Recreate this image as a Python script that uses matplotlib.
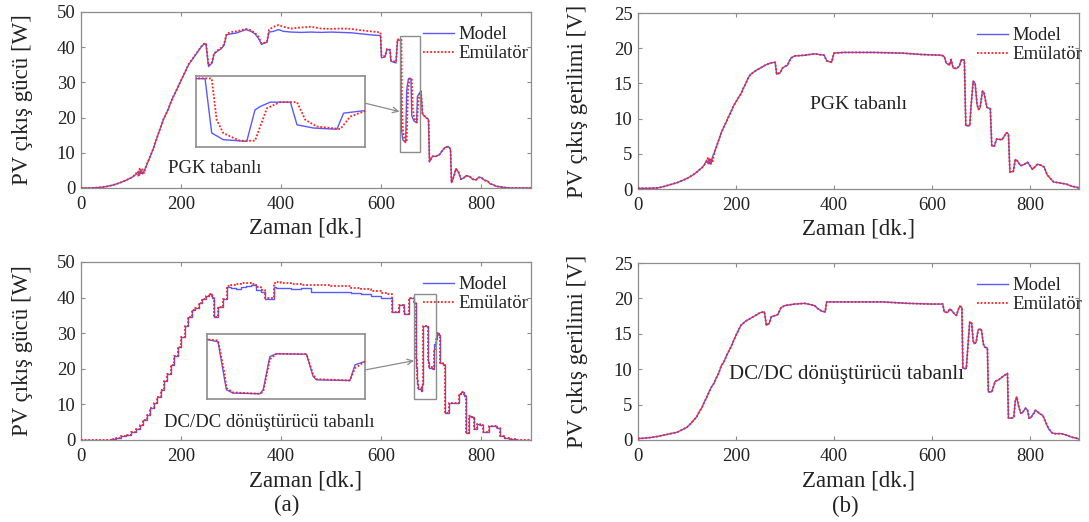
import numpy as np
import matplotlib
matplotlib.use('Agg')
import matplotlib.pyplot as plt
from matplotlib.patches import Rectangle

plt.rcParams['font.family'] = ['Liberation Serif', 'DejaVu Serif']

# ---- (a) PGK tabanli: PV power [W] ----
pgk_p_t_model = [0, 20, 40, 50, 60, 70, 80, 90, 100, 105,
                 110, 114, 117, 120, 123, 126, 130, 135, 140, 145,
                 150, 155, 160, 165, 170, 175, 180, 185, 190, 195,
                 200, 205, 210, 215, 220, 225, 230, 235, 240, 245,
                 250, 255, 262, 266, 272, 280, 286, 291, 300, 310,
                 320, 330, 340, 348, 355, 361, 372, 376, 385, 395,
                 405, 420, 440, 460, 480, 500, 520, 540, 560, 580,
                 599, 601, 608, 612, 618, 620, 630, 633, 639.2, 640.8,
                 643.6, 649.3, 651.3, 652.6, 655, 659.9, 661.5, 665.5, 670.4, 671.2,
                 672.8, 678, 680, 683, 690, 695, 697, 703, 710, 717,
                 722, 728, 735, 739, 741, 745, 750, 755, 760, 765,
                 770, 777, 783, 790, 795, 800, 807, 813, 818, 823,
                 830, 840, 850, 860, 900]
pgk_p_model = [0, 0, 0.2, 0.4, 0.7, 1.1, 1.6, 2.2, 2.9, 3.3,
               3.9, 4.6, 3.6, 5.2, 4.0, 4.8, 6.0, 7.8, 9.5, 11.3,
               13.5, 15.5, 17.5, 19.5, 21.0, 22.5, 24.5, 26.0, 27.5, 29.0,
               30.5, 32.0, 33.5, 35.0, 36.0, 37.0, 38.0, 39.0, 40.0, 40.8,
               41.0, 34.5, 35.5, 38.0, 38.8, 39.5, 40.5, 43.5, 43.8, 44.0,
               44.5, 45.0, 44.5, 43.8, 42.5, 40.8, 41.5, 44.3, 44.5, 45.0,
               44.5, 44.3, 44.2, 44.3, 44.2, 44.3, 44.2, 44.1, 43.8, 43.5,
               43.3, 37.0, 37.2, 39.4, 39.2, 36.0, 35.5, 42.0, 42.0, 16.8,
               13.7, 12.9, 27.5, 29.1, 31.1, 31.1, 20.6, 19.1, 18.6, 18.6,
               26.0, 27.2, 27.5, 21.0, 20.0, 19.5, 7.5, 9.0, 9.0, 9.5,
               10.5, 11.5, 11.8, 11.0, 1.5, 3.0, 5.5, 4.5, 2.5, 2.8,
               3.5, 3.3, 2.5, 2.3, 3.0, 3.0, 2.2, 2.0, 1.2, 1.0,
               0.5, 0.3, 0.1, 0, 0]
pgk_p_t_emu = [0, 20, 40, 50, 60, 70, 80, 90, 100, 105,
               110, 114, 117, 120, 123, 126, 130, 135, 140, 145,
               150, 155, 160, 165, 170, 175, 180, 185, 190, 195,
               200, 205, 210, 215, 220, 225, 230, 235, 240, 245,
               250, 255, 262, 266, 272, 280, 286, 291, 300, 310,
               320, 330, 340, 348, 355, 361, 372, 376, 385, 395,
               405, 420, 440, 460, 480, 500, 520, 540, 560, 580,
               599, 601, 608, 612, 618, 620, 630, 633, 640.8, 642,
               643.6, 646.1, 647.7, 651.3, 654.2, 657.4, 661.5, 663.5, 666.3, 672,
               674.4, 678, 680, 683, 690, 695, 697, 703, 710, 717,
               722, 728, 735, 739, 741, 745, 750, 755, 760, 765,
               770, 777, 783, 790, 795, 800, 807, 813, 818, 823,
               830, 840, 850, 860, 900]
pgk_p_emu = [0, 0, 0.2, 0.4, 0.7, 1.1, 1.6, 2.2, 2.9, 3.4,
             4.2, 3.5, 5.5, 3.8, 5.3, 4.2, 6.2, 7.9, 9.6, 11.4,
             13.5, 15.6, 17.5, 19.6, 21.0, 22.6, 24.5, 26.1, 27.5, 29.1,
             30.5, 32.1, 33.5, 35.1, 36.1, 37.1, 38.1, 39.1, 40.1, 40.9,
             41.1, 34.8, 35.7, 38.2, 39.0, 39.8, 40.8, 43.8, 44.3, 44.5,
             44.8, 45.2, 44.8, 44.0, 43.0, 41.0, 41.5, 45.0, 45.8, 46.3,
             45.8, 45.3, 45.6, 45.8, 45.3, 45.2, 45.3, 45.2, 44.8, 44.5,
             44.2, 37.5, 37.5, 39.5, 39.3, 36.2, 35.8, 42.2, 42.1, 22.9,
             16.8, 14.5, 13.2, 13.2, 28.3, 31.1, 31.1, 22.9, 19.8, 18.6,
             24.4, 27.0, 27.5, 21.0, 20.0, 19.5, 7.5, 9.0, 9.0, 9.5,
             10.5, 11.5, 11.8, 11.0, 1.5, 3.0, 5.5, 4.5, 2.5, 2.8,
             3.5, 3.3, 2.5, 2.3, 3.0, 3.0, 2.2, 2.0, 1.2, 1.0,
             0.5, 0.3, 0.1, 0, 0]

# ---- (a) DC/DC donusturucu tabanli: PV power [W] ----
dc_p_t = [0, 20, 40, 60, 70, 80, 90, 100, 110, 117,
          124, 131, 138, 145, 152, 159, 166, 172, 179, 186,
          193, 200, 207, 214, 221, 228, 235, 242, 249, 256,
          262, 266, 274, 284, 292, 300, 310, 320, 330, 340,
          350, 360, 368, 385, 390, 400, 420, 440, 460, 480,
          500, 520, 540, 560, 580, 600, 612, 622, 630, 635,
          642, 646, 652, 655, 660, 666, 669, 670.8, 671.3, 673.1,
          680.4, 681.3, 683.1, 684.9, 693.1, 694.9, 695.8, 704.9, 706.3, 709,
          712, 716, 718, 724, 727, 736, 750, 755, 760, 766,
          769, 775, 780, 786, 792, 798, 803, 810, 815, 826,
          832, 838, 845, 855, 870, 885, 900]
dc_p_model = [0, 0, 0.1, 0.3, 0.6, 1.0, 1.5, 2.2, 3.0, 4.3,
              5.5, 7.0, 9.0, 10.5, 12.0, 14.0, 16.5, 18.5, 21.0, 23.5,
              26.0, 29.0, 32.0, 34.5, 36.5, 37.0, 38.5, 39.5, 40.5, 41.0,
              40.0, 34.5, 37.5, 39.5, 43.0, 42.8, 42.5, 43.0, 43.3, 43.5,
              42.0, 41.5, 39.5, 43.0, 42.8, 42.8, 42.5, 42.8, 41.5, 41.5,
              41.6, 41.5, 41.3, 41.0, 40.5, 40.0, 40.0, 36.0, 36.0, 38.0,
              38.0, 35.5, 35.5, 40.0, 40.0, 38.5, 37.4, 20.2, 15.7, 14.2,
              13.9, 15.7, 30.7, 32.0, 31.8, 21.7, 20.2, 19.9, 27.0, 28.5,
              30.0, 29.5, 21.5, 21.0, 7.5, 10.5, 10.5, 13.0, 13.5, 12.5,
              2.0, 6.8, 6.5, 3.0, 4.5, 4.3, 2.2, 2.2, 4.0, 3.8,
              3.3, 1.2, 0.6, 0.3, 0.1, 0, 0]
dc_p_emu = [0, 0, 0.1, 0.3, 0.6, 1.0, 1.5, 2.2, 3.0, 4.3,
            5.5, 7.0, 9.0, 10.5, 12.0, 14.0, 16.5, 18.5, 21.0, 23.5,
            26.0, 29.0, 32.0, 34.5, 36.5, 37.0, 38.5, 39.5, 40.5, 41.0,
            40.0, 34.5, 37.5, 39.5, 43.2, 43.5, 43.8, 44.0, 44.0, 43.8,
            43.0, 42.0, 39.8, 44.2, 44.3, 44.0, 43.8, 43.6, 43.5, 43.4,
            43.3, 43.2, 42.8, 42.3, 41.8, 41.2, 41.0, 36.0, 36.0, 38.0,
            38.0, 35.5, 35.5, 40.0, 40.0, 38.5, 38.0, 23.0, 16.5, 14.5,
            13.9, 14.8, 29.5, 32.0, 31.8, 22.5, 20.5, 19.9, 25.5, 28.5,
            30.0, 29.5, 21.5, 21.0, 7.5, 10.5, 10.5, 13.0, 13.5, 12.5,
            2.0, 6.8, 6.5, 3.0, 4.5, 4.3, 2.2, 2.2, 4.0, 3.8,
            3.3, 1.2, 0.6, 0.3, 0.1, 0, 0]

# ---- (b) PGK tabanli: PV voltage [V] ----
pgk_v_t = [0, 20, 40, 50, 60, 70, 80, 90, 100, 110,
           120, 130, 135, 140, 143, 146, 149, 152, 156, 160,
           165, 170, 175, 180, 185, 190, 195, 200, 205, 210,
           215, 220, 225, 230, 240, 250, 260, 270, 280, 283,
           290, 295, 305, 312, 320, 340, 360, 380, 385, 395,
           400, 420, 480, 540, 580, 620, 625, 629, 636, 639,
           643, 650, 656, 660, 666, 669, 677, 680, 684, 688,
           692, 695, 698, 703, 706, 712, 719, 722, 727, 732,
           743, 752, 756, 759, 766, 770, 774, 781, 788, 795,
           805, 815, 822, 829, 835, 839, 848, 857, 874, 885,
           898, 900]
pgk_v_model = [0.1, 0.1, 0.15, 0.3, 0.5, 0.7, 0.9, 1.2, 1.5, 1.9,
               2.4, 3.0, 3.4, 4.1, 3.6, 4.3, 3.5, 4.6, 5.2, 6.0,
               7.0, 8.0, 8.8, 9.5, 10.3, 11.0, 11.8, 12.4, 13.0, 13.5,
               14.3, 15.0, 15.8, 16.3, 16.8, 17.2, 17.6, 17.9, 18.0, 16.3,
               16.5, 17.2, 17.6, 18.6, 18.9, 19.0, 19.2, 19.0, 18.2, 18.0,
               19.3, 19.4, 19.4, 19.3, 19.1, 19.0, 18.8, 17.9, 17.6, 18.4,
               17.2, 17.1, 17.5, 18.4, 18.3, 9.0, 9.0, 12.0, 15.3, 15.0,
               12.0, 11.3, 11.5, 13.9, 13.7, 11.6, 11.4, 6.1, 6.1, 7.1,
               7.0, 8.0, 7.8, 2.4, 2.5, 4.2, 4.0, 3.3, 3.5, 3.8,
               2.8, 3.5, 3.4, 3.1, 2.0, 1.7, 1.0, 0.9, 0.7, 0.4,
               0.2, 0.1]
pgk_v_emu = pgk_v_model.copy()
pgk_v_emu[13:18] = [3.8, 4.5, 3.4, 4.4, 3.8]

# ---- (b) DC/DC donusturucu tabanli: PV voltage [V] ----
dc_v_t = [0, 20, 40, 60, 80, 100, 110, 120, 125, 130,
          135, 140, 145, 150, 155, 160, 165, 170, 175, 180,
          185, 190, 195, 200, 205, 210, 220, 230, 240, 250,
          258, 262, 268, 272, 285, 292, 300, 320, 340, 360,
          368, 375, 382, 385, 400, 450, 500, 550, 600, 622,
          625, 632, 636, 640, 646, 650, 654, 657, 661, 663,
          670, 673, 677, 681, 684, 686, 690, 694, 698, 701,
          705, 708, 713, 715, 722, 729, 736, 745, 754, 756,
          764, 767, 770, 773, 776, 781, 784, 791, 795, 798,
          801, 808, 811, 815, 820, 826, 832, 838, 845, 851,
          864, 874, 885, 898, 900]
dc_v_model = [0.2, 0.3, 0.5, 0.8, 1.1, 1.8, 2.5, 3.3, 4.0, 4.5,
              5.3, 6.0, 6.8, 7.5, 8.0, 8.8, 9.5, 10.5, 11.0, 11.8,
              12.5, 13.2, 14.0, 14.8, 15.5, 16.2, 16.8, 17.2, 17.6, 18.0,
              18.1, 16.2, 16.5, 17.4, 17.7, 18.7, 19.0, 19.2, 19.3, 19.0,
              18.5, 18.2, 18.1, 19.5, 19.5, 19.5, 19.5, 19.3, 19.2, 19.2,
              18.1, 18.0, 18.5, 18.3, 17.8, 17.6, 18.5, 18.9, 18.7, 10.1,
              10.1, 13.0, 16.7, 16.5, 14.0, 13.6, 13.8, 15.5, 15.7, 15.5,
              13.5, 13.1, 13.0, 6.8, 6.8, 8.3, 8.5, 9.0, 9.4, 3.1,
              3.1, 3.3, 5.5, 6.1, 5.0, 3.8, 3.8, 4.5, 4.2, 3.1,
              3.1, 3.8, 4.2, 4.0, 3.7, 3.5, 2.5, 1.6, 1.0, 0.9,
              0.9, 0.7, 0.4, 0.2, 0.1]
dc_v_emu = dc_v_model.copy()

x_ticks = [0, 200, 400, 600, 800]
legend_labels = ['Model', 'Emülatör']

BLUE = '#5858ff'
RED = '#ff2020'
GRAY = '#8c8c8c'
TXT = '#222222'

W, H = 1089, 522
fig = plt.figure(figsize=(W / 100, H / 100), dpi=100)


def px_axes(l, t, r, b):
    return fig.add_axes([l / W, 1 - b / H, (r - l) / W, (b - t) / H])


def draw_lines(ax, t_m, y_m, t_e, y_e, steps=False):
    ds = 'steps-post' if steps else 'default'
    lm, = ax.plot(t_m, y_m, color=BLUE, lw=1.0, drawstyle=ds, zorder=3)
    le, = ax.plot(t_e, y_e, color=RED, lw=1.3, ls=(0, (1, 1)), drawstyle=ds, zorder=4)
    return lm, le


def style(ax, ymax, ystep, ylabel, ylab_x, leg_x):
    ax.set_xlim(0, 900)
    ax.set_ylim(0, ymax)
    ax.set_xticks(x_ticks)
    ax.set_yticks(np.arange(0, ymax + 0.1, ystep))
    ax.tick_params(axis='both', direction='in', top=True, right=True, length=3,
                   width=0.8, color=GRAY, labelsize=13.5, labelcolor=TXT)
    ax.tick_params(axis='x', pad=6)
    ax.tick_params(axis='y', pad=4)
    for s in ax.spines.values():
        s.set_color(GRAY)
        s.set_linewidth(0.9)
    ax.set_xlabel('Zaman [dk.]', fontsize=16.5, color=TXT)
    ax.xaxis.set_label_coords(0.5, -0.17)
    ax.set_ylabel(ylabel, fontsize=16.5, color=TXT)
    ax.yaxis.set_label_coords(ylab_x, 0.5)
    leg = ax.legend(ax.lines[:2], legend_labels, loc='upper left', bbox_to_anchor=(leg_x, 0.92),
                    frameon=False, fontsize=13.5, handlelength=1.65, handletextpad=0.25,
                    labelspacing=0.1, borderpad=0, borderaxespad=0)
    for tx in leg.get_texts():
        tx.set_color(TXT)


def zoom_inset(ax, bounds, t_m, y_m, t_e, y_e, rect, start, end):
    x0, x1, y0, y1 = rect
    ins = ax.inset_axes(bounds)
    draw_lines(ins, t_m, y_m, t_e, y_e)
    ins.set_xlim(x0, x1)
    ins.set_ylim(y0, y1)
    ins.set_xticks([])
    ins.set_yticks([])
    for s in ins.spines.values():
        s.set_color(GRAY)
        s.set_linewidth(1.2)
    ax.add_patch(Rectangle((x0, y0), x1 - x0, y1 - y0, fill=False, ec=GRAY, lw=1.0, zorder=5))
    ax.annotate('', xy=end, xytext=start,
                arrowprops=dict(arrowstyle='->', color=GRAY, lw=0.9, shrinkA=0, shrinkB=0))


# top-left
ax1 = px_axes(81, 12, 531, 188)
draw_lines(ax1, pgk_p_t_model, pgk_p_model, pgk_p_t_emu, pgk_p_emu)
style(ax1, 50, 10, 'PV çıkış gücü [W]', -0.107, 0.76)
zoom_inset(ax1, [0.2556, 0.233, 0.3756, 0.403], pgk_p_t_model, pgk_p_model,
           pgk_p_t_emu, pgk_p_emu, (637, 678, 10.3, 43.2), (568, 24.1), (637, 21.7))
ax1.text(268, 5.6, 'PGK tabanlı', ha='center', va='center', fontsize=13.5, color=TXT)

# bottom-left (staircase look)
ax2 = px_axes(81, 262, 531, 440)
draw_lines(ax2, dc_p_t, dc_p_model, dc_p_t, dc_p_emu, steps=True)
style(ax2, 50, 10, 'PV çıkış gücü [W]', -0.107, 0.76)
zoom_inset(ax2, [0.28, 0.23, 0.351, 0.365], dc_p_t, dc_p_model, dc_p_t, dc_p_emu,
           (666, 709, 11.5, 40.9), (569, 19.7), (666, 22.3))
ax2.text(377, 5.0, 'DC/DC dönüştürücü tabanlı', ha='center', va='center', fontsize=13.5, color=TXT)

# top-right
ax3 = px_axes(638, 13, 1079, 189)
draw_lines(ax3, pgk_v_t, pgk_v_model, pgk_v_t, pgk_v_emu)
style(ax3, 25, 5, 'PV çıkış gerilimi [V]', -0.113, 0.768)
ax3.text(450, 12.0, 'PGK tabanlı', ha='center', va='center', fontsize=14, color=TXT)

# bottom-right
ax4 = px_axes(638, 263, 1079, 440)
draw_lines(ax4, dc_v_t, dc_v_model, dc_v_t, dc_v_emu)
style(ax4, 25, 5, 'PV çıkış gerilimi [V]', -0.113, 0.768)
ax4.text(425, 9.3, 'DC/DC dönüştürücü tabanlı', ha='center', va='center', fontsize=15, color=TXT)

fig.text(287 / W, 1 - 505 / H, '(a)', ha='center', va='center', fontsize=16.5, color=TXT)
fig.text(845 / W, 1 - 506 / H, '(b)', ha='center', va='center', fontsize=16.5, color=TXT)

fig.savefig('out.png', dpi=100, facecolor='white')
